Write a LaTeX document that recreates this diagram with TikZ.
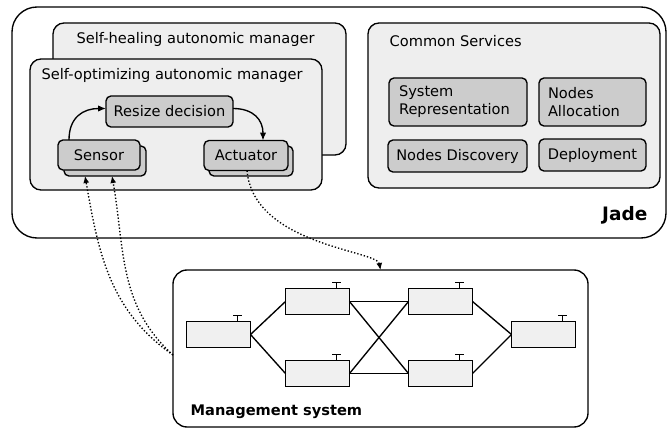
\documentclass[tikz,border=0pt]{standalone}
\usepackage{fontspec}
\setmainfont{DejaVu Sans}
\usetikzlibrary{arrows.meta}
\definecolor{contfill}{HTML}{EEEEEE}
\definecolor{boxfill}{HTML}{CCCCCC}
\definecolor{netfill}{HTML}{F0F0F0}
\begin{document}
\begin{tikzpicture}[x=1pt,y=1pt,
  font=\fontsize{14.6}{18}\selectfont, line width=1.35pt,
  frame/.style={draw, fill=white, rounded corners=#1, inner sep=0pt, outer sep=0pt},
  cont/.style={draw, fill=contfill, rounded corners=11pt, inner sep=0pt, outer sep=0pt},
  ibox/.style={draw, fill=boxfill, rounded corners=5pt, inner sep=0pt, outer sep=0pt, align=center},
  netbox/.style={draw, fill=netfill, minimum width=64pt, minimum height=26pt, inner sep=0pt, outer sep=0pt, line width=1.5pt},
  lbl/.style={anchor=base west, inner sep=0pt},
  arr/.style={-{Latex[length=8pt,width=6.5pt]}},
  dotarr/.style={dotted, line width=1.35pt, -{Latex[length=7pt,width=6pt]}}]
\useasboundingbox (0,0) rectangle (667,-428);

% Jade frame
\node[frame=25pt, minimum width=654pt, minimum height=231pt] (jade) at (339,-122.5) {};
\node[lbl, anchor=base east, font=\fontsize{18.5}{22}\selectfont\bfseries] (jadelbl) at (648,-220.5) {Jade};

% autonomic managers
\node[cont, minimum width=293pt, minimum height=132pt] (heal) at (199.5,-89) {};
\node[lbl] (heallbl) at (76,-43.5) {Self-healing autonomic manager};
\node[cont, minimum width=292pt, minimum height=131pt] (opt) at (176,-124.5) {};
\node[lbl] (optlbl) at (41,-80) {Self-optimizing autonomic manager};

\node[ibox, minimum width=127pt, minimum height=31pt] (resize) at (169.5,-111.5) {Resize decision};
\node[ibox, minimum width=82pt, minimum height=30pt] (sshadow) at (105,-161) {};
\node[ibox, minimum width=82pt, minimum height=30pt] (sensor) at (99,-155) {Sensor};
\node[ibox, minimum width=84pt, minimum height=30pt] (ashadow) at (251,-161) {};
\node[ibox, minimum width=84pt, minimum height=30pt] (act) at (246,-155.5) {Actuator};

\draw[arr] ([xshift=-30pt]sensor.north) to[out=90,in=180,looseness=1.2] ([yshift=3pt]resize.west);
\draw[arr] ([yshift=3pt]resize.east) to[out=0,in=90,looseness=1.2] ([xshift=17pt]act.north);

% common services
\node[cont, minimum width=292pt, minimum height=165pt] (common) at (514,-105.5) {};
\node[lbl] (commonlbl) at (389,-46.7) {Common Services};
\node[ibox, minimum width=138pt, minimum height=48pt, text width=118pt, align=left] (sysrep) at (458,-102) {System\\Representation};
\node[ibox, minimum width=107pt, minimum height=48pt, text width=89pt, align=left] (nalloc) at (592.5,-102) {Nodes\\Allocation};
\node[ibox, minimum width=139pt, minimum height=32pt] (ndisc) at (457.5,-156) {Nodes Discovery};
\node[ibox, minimum width=107pt, minimum height=32pt] (deploy) at (592.5,-155) {Deployment};

% management system
\node[frame=14pt, minimum width=415pt, minimum height=157pt] (mgmt) at (380.5,-348.5) {};
\node[lbl, font=\fontsize{14.6}{18}\selectfont\bfseries] (mgmtlbl) at (190,-415) {Management system};

\node[netbox] (na) at (218.5,-334.5) {};
\node[netbox] (nb) at (317.5,-301.5) {};
\node[netbox] (nc) at (317.5,-373.5) {};
\node[netbox] (nd) at (440.5,-301.5) {};
\node[netbox] (ne) at (440.5,-373.5) {};
\node[netbox] (nf) at (543.5,-334.5) {};
\foreach \n in {na,nb,nc,nd,ne,nf}
  \draw[line width=1.5pt] ([xshift=-13pt]\n.north east) -- ++(0,6) ++(-4.5,0) -- ++(9,0);
\draw (na.east) -- (nb.west);
\draw (na.east) -- (nc.west);
\draw (nb.east) -- (nd.west);
\draw (nb.east) -- (ne.west);
\draw (nc.east) -- (nd.west);
\draw (nc.east) -- (ne.west);
\draw (nd.east) -- (nf.west);
\draw (ne.east) -- (nf.west);

% dotted connectors
\coordinate (ms) at ([yshift=-6.5pt]mgmt.west);
\draw[dotarr] (ms) to[out=145,in=-80] ([xshift=-20pt]sshadow.south);
\draw[dotarr] (ms) to[out=138,in=-80] ([xshift=7pt]sshadow.south);
\draw[dotarr] ([xshift=1pt]act.south) to[out=-85,in=100,out distance=75pt,in distance=20pt] (mgmt.north);
\end{tikzpicture}
\end{document}
